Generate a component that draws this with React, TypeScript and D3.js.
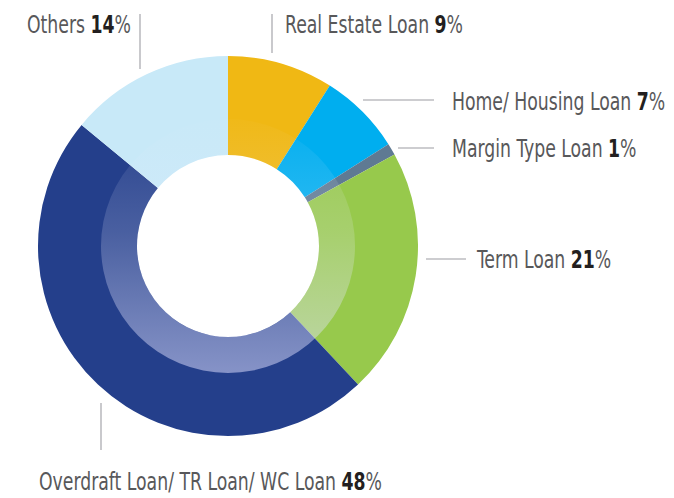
import React from 'react';
import * as d3 from 'd3';

// loan portfolio share, clockwise from 12 o'clock
const categories = [
  'Real Estate Loan',
  'Home/ Housing Loan',
  'Margin Type Loan',
  'Term Loan',
  'Overdraft Loan/ TR Loan/ WC Loan',
  'Others',
];
const shares = [9, 7, 1, 21, 48, 14];
const colors = ['#f0b814', '#00aeef', '#5f7a93', '#97c94c', '#243f8b', '#c8e9f8'];

// label placement (x, baseline y) and leader line for each category
const labelPos: [number, number][] = [
  [285, 33],
  [452, 110],
  [452, 157],
  [477, 268],
  [39, 490],
  [27, 33],
];
const leaders: [number, number, number, number][] = [
  [272, 14, 272, 53],
  [363, 100, 434, 100],
  [398, 148, 434, 148],
  [426, 259, 466, 259],
  [101, 403, 101, 450],
  [140, 14, 140, 69],
];

const width = 674;
const height = 498;
const cx = 228;
const cy = 246;
const outerR = 190;
const innerR = 91;
const ringR = 127;
const squeeze = 0.8; // condensed look for labels

const App: React.FC = () => {
  const data = categories.map((c, i) => ({ name: c, value: shares[i], color: colors[i] }));
  const pie = d3.pie<any>().value((d) => d.value).sort(null);
  const arcs = pie(data);
  const arc = d3.arc<any>().innerRadius(innerR).outerRadius(outerR);
  const ring = d3.arc<any>().innerRadius(innerR).outerRadius(ringR);
  const ringFull = ring({ startAngle: 0, endAngle: Math.PI * 2 } as any) as string;

  return (
    <svg
      width={width}
      height={height}
      style={{ position: 'absolute', left: 0, top: 0, background: '#fff' }}
      fontFamily="'DejaVu Sans Condensed', 'Liberation Sans Narrow', sans-serif"
    >
      <defs>
        <linearGradient id="ringFade" gradientUnits="userSpaceOnUse" x1={0} y1={-ringR} x2={0} y2={ringR}>
          <stop offset="0" stopColor="#ebebff" stopOpacity={0.02} />
          <stop offset="0.45" stopColor="#ebebff" stopOpacity={0.19} />
          <stop offset="1" stopColor="#e0e0ff" stopOpacity={0.52} />
        </linearGradient>
      </defs>
      <g transform={`translate(${cx},${cy})`}>
        {arcs.map((a, i) => (
          <path key={i} d={arc(a) as string} fill={a.data.color} />
        ))}
        <path d={ringFull} fill="url(#ringFade)" />
      </g>
      {leaders.map((l, i) => (
        <line key={i} x1={l[0]} y1={l[1]} x2={l[2]} y2={l[3]} stroke="#bcbcc0" strokeWidth={1.6} />
      ))}
      {arcs.map((a, i) => (
        <text
          key={i}
          transform={`translate(${labelPos[i][0]},${labelPos[i][1]}) scale(${squeeze},1)`}
          fontSize={24}
          fill="#58585a"
        >
          {a.data.name}{' '}
          <tspan fontWeight="bold" fill="#231f20">
            {a.data.value}
          </tspan>
          %
        </text>
      ))}
    </svg>
  );
};

export default App;
